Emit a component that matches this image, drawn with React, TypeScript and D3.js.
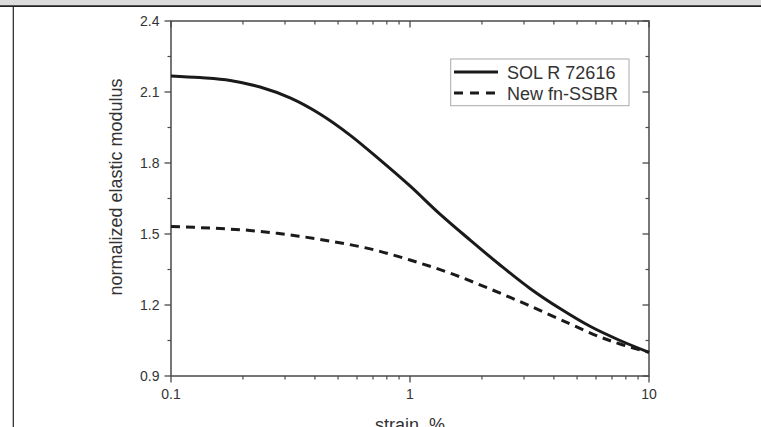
import React from "react";
import * as d3 from "d3";

const strainSol = [0.1, 0.132, 0.177, 0.236, 0.315, 0.42, 0.561, 0.749, 1.0, 1.335, 1.782, 2.381, 3.178, 4.243, 5.664, 7.563, 10];
const modulusSol = [2.168, 2.161, 2.149, 2.121, 2.075, 2.007, 1.918, 1.813, 1.703, 1.584, 1.475, 1.369, 1.27, 1.185, 1.11, 1.05, 1.0];

const strainNew = [0.1, 0.146, 0.214, 0.315, 0.463, 0.682, 1.0, 1.469, 2.16, 3.178, 4.67, 6.24, 7.563, 10];
const modulusNew = [1.532, 1.525, 1.515, 1.496, 1.47, 1.437, 1.39, 1.335, 1.268, 1.196, 1.12, 1.065, 1.035, 1.0];

const xMajor = [0.1, 1, 10];
const xMajorLabels = ["0.1", "1", "10"];
const xMinor = [0.2, 0.3, 0.4, 0.5, 0.6, 0.7, 0.8, 0.9, 2, 3, 4, 5, 6, 7, 8, 9];
const yMajor = [0.9, 1.2, 1.5, 1.8, 2.1, 2.4];
const yMajorLabels = ["0.9", "1.2", "1.5", "1.8", "2.1", "2.4"];
const yMinor = [1.05, 1.35, 1.65, 1.95, 2.25];

const seriesNames = ["SOL R 72616", "New fn-SSBR"];
const xTitle = "strain, %";
const yTitle = "normalized elastic modulus";

export default function App() {
  const W = 761, H = 427;
  const left = 171, right = 649, top = 21, bottom = 376;
  const x = d3.scaleLog().domain([0.1, 10]).range([left, right]);
  const y = d3.scaleLinear().domain([0.9, 2.4]).range([bottom, top]);
  const line = d3
    .line<[number, number]>()
    .x((d) => x(d[0]))
    .y((d) => y(d[1]))
    .curve(d3.curveCatmullRom.alpha(0.5));
  const solD = line(strainSol.map((s, i) => [s, modulusSol[i]]) as [number, number][]) || "";
  const newD = line(strainNew.map((s, i) => [s, modulusNew[i]]) as [number, number][]) || "";
  const axisColor = "#4a4a4a";
  const txt = "#333";
  const font = "Liberation Sans, Arial, sans-serif";
  const majL = 6.5, minL = 3.5;

  return (
    <svg width={W} height={H} style={{ position: "absolute", left: 0, top: 0, background: "#fff" }} fontFamily={font}>
      <rect x={0} y={0} width={W} height={H} fill="#fff" />
      <rect x={0} y={0} width={W} height={5.5} fill="#dcdcdc" />
      <line x1={0} x2={W} y1={6.2} y2={6.2} stroke="#222" strokeWidth={1.8} />
      <line x1={13.3} x2={13.3} y1={6} y2={H} stroke="#222" strokeWidth={1.2} />

      <rect x={left} y={top} width={right - left} height={bottom - top} fill="none" stroke={axisColor} strokeWidth={1.5} />

      {xMajor.map((v, i) => (
        <g key={"xm" + i}>
          <line x1={x(v)} x2={x(v)} y1={bottom} y2={bottom + majL} stroke={axisColor} strokeWidth={1.3} />
          <line x1={x(v)} x2={x(v)} y1={top} y2={top + majL} stroke={axisColor} strokeWidth={1.3} />
          <text x={x(v)} y={399} textAnchor="middle" fontSize={14} fill={txt}>{xMajorLabels[i]}</text>
        </g>
      ))}
      {xMinor.map((v, i) => (
        <g key={"xn" + i}>
          <line x1={x(v)} x2={x(v)} y1={bottom} y2={bottom + minL} stroke={axisColor} strokeWidth={1.2} />
          <line x1={x(v)} x2={x(v)} y1={top} y2={top + minL} stroke={axisColor} strokeWidth={1.2} />
        </g>
      ))}

      {yMajor.map((v, i) => (
        <g key={"ym" + i}>
          <line x1={left - majL} x2={left} y1={y(v)} y2={y(v)} stroke={axisColor} strokeWidth={1.3} />
          <line x1={right - majL} x2={right} y1={y(v)} y2={y(v)} stroke={axisColor} strokeWidth={1.3} />
          <text x={159.5} y={y(v) + 5} textAnchor="end" fontSize={14} fill={txt}>{yMajorLabels[i]}</text>
        </g>
      ))}
      {yMinor.map((v, i) => (
        <g key={"yn" + i}>
          <line x1={left - minL} x2={left} y1={y(v)} y2={y(v)} stroke={axisColor} strokeWidth={1.2} />
          <line x1={right - minL} x2={right} y1={y(v)} y2={y(v)} stroke={axisColor} strokeWidth={1.2} />
        </g>
      ))}

      <path d={solD} fill="none" stroke="#1a1a1a" strokeWidth={3} />
      <path d={newD} fill="none" stroke="#1a1a1a" strokeWidth={3} strokeDasharray="9,6" />

      <text x={410} y={431} textAnchor="middle" fontSize={18} fill={txt}>{xTitle}</text>
      <text transform={`translate(122,187) rotate(-90)`} textAnchor="middle" fontSize={18} fill={txt}>{yTitle}</text>

      <rect x={450.7} y={59} width={178.3} height={46.7} fill="#fff" stroke="#aaa" strokeWidth={1} />
      <line x1={454} x2={498} y1={72} y2={72} stroke="#1a1a1a" strokeWidth={3} />
      <line x1={454} x2={498} y1={93} y2={93} stroke="#1a1a1a" strokeWidth={3} strokeDasharray="9,7" />
      <text x={507} y={78.5} fontSize={18} fill={txt}>{seriesNames[0]}</text>
      <text x={507} y={100} fontSize={18} fill={txt}>{seriesNames[1]}</text>
    </svg>
  );
}
